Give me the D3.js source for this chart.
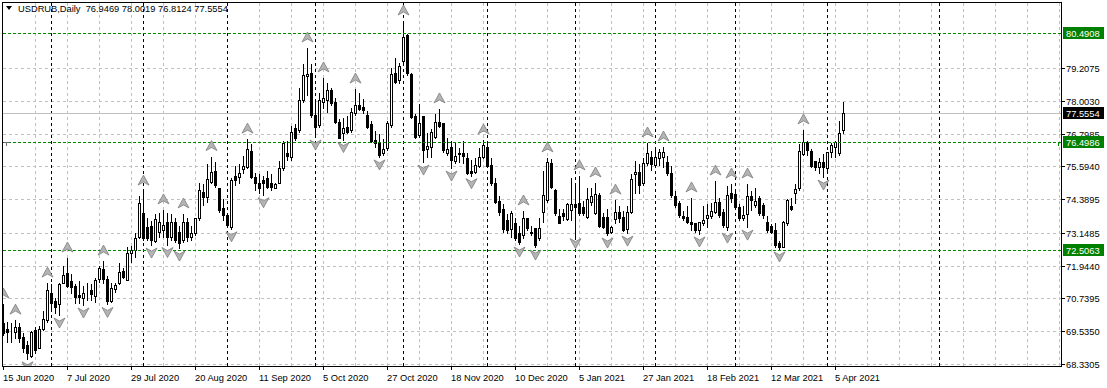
<!DOCTYPE html>
<html><head><meta charset="utf-8">
<script src="https://cdn.jsdelivr.net/npm/d3@7"></script>
<style>html,body{margin:0;padding:0;background:#fff;} svg{display:block;} line{shape-rendering:crispEdges;}</style>
</head><body>
<svg id="c" width="1107" height="388"></svg>
<script>
const symbolTitle = "USDRUB,Daily";
const lastOHLC = ["76.9469", "78.0019", "76.8124", "77.5554"];

const open = [
69.84,69.62,69.56,69.52,69.69,69.32,69.03,68.62,69.58,68.92,
69.62,69.95,70.94,70.65,70.54,71.31,71.67,71.38,71.20,70.87,
70.76,70.90,71.05,70.83,71.45,71.82,71.45,70.65,71.09,71.31,
71.75,71.42,72.41,72.52,73.00,73.88,73.36,73.40,72.85,73.18,
73.25,73.55,73.00,73.55,73.18,72.89,73.55,73.00,73.14,73.70,
74.65,74.47,75.02,75.42,74.80,74.06,73.81,73.36,75.24,75.20,
75.50,75.57,76.16,75.20,74.98,75.09,75.17,74.98,74.80,74.98,
75.53,76.08,75.94,77.00,76.93,78.03,78.91,79.02,77.48,77.11,
77.96,78.03,78.40,77.96,77.22,76.82,77.04,76.93,77.55,77.85,
77.77,77.48,77.15,76.56,76.45,76.08,76.27,77.11,79.02,78.77,
79.46,80.42,78.99,77.44,76.75,77.44,76.23,76.30,76.67,77.22,
77.19,76.08,76.30,75.79,76.05,76.08,75.90,75.42,75.39,75.61,
75.94,76.30,75.64,74.98,74.32,74.03,73.62,73.29,73.51,73.14,
73.07,73.70,73.18,73.33,72.96,73.92,74.36,75.72,74.72,73.77,
73.88,73.66,73.99,74.21,74.25,74.10,73.73,74.28,73.88,74.54,
73.73,73.73,73.18,73.66,73.92,73.73,73.29,73.92,75.31,75.39,
74.98,75.72,75.94,75.64,75.90,75.94,75.75,75.35,74.50,74.25,
73.77,73.73,73.55,73.51,73.25,73.51,73.70,73.77,73.92,74.28,
73.92,73.36,74.61,74.58,74.10,73.70,73.84,74.50,74.17,74.43,
74.17,73.55,73.40,73.25,72.78,72.63,73.51,74.14,74.61,74.80,
76.05,76.49,76.16,75.79,75.57,75.75,75.53,76.12,76.30,76.08,
76.9469];
const high = [
70.57,69.91,69.87,69.98,69.87,69.51,69.21,69.58,69.73,69.76,
70.32,71.34,71.31,70.79,71.34,71.97,72.26,71.67,71.31,71.42,
71.23,71.34,71.31,71.53,71.97,72.15,71.60,71.34,71.34,72.08,
71.90,72.67,72.70,73.18,74.54,74.72,73.73,73.62,73.88,73.92,
74.03,73.92,73.88,73.73,73.44,73.88,73.73,73.44,73.73,75.02,
74.98,75.72,75.99,75.80,74.83,74.43,73.92,75.20,75.64,75.72,
76.01,76.63,76.45,75.39,75.35,75.28,75.46,75.35,75.02,75.83,
76.56,76.56,77.11,77.19,78.51,79.39,79.98,79.39,78.03,78.33,
78.88,78.69,78.51,78.14,77.37,77.41,77.48,77.77,78.47,78.33,
78.10,77.66,77.30,76.93,76.82,76.63,77.30,79.24,79.61,79.43,
80.97,80.49,79.06,77.55,77.92,77.48,76.86,77.00,77.55,77.74,
77.22,76.67,76.56,76.49,76.30,76.56,76.12,75.86,75.94,76.30,
76.60,76.49,75.94,75.20,74.54,74.25,73.88,73.99,73.73,73.44,
73.99,73.73,73.44,73.36,73.73,75.46,75.94,75.90,74.80,74.06,
74.06,74.28,75.20,75.02,75.28,74.36,74.83,74.83,75.02,74.65,
73.92,74.06,73.44,74.39,74.17,73.99,74.17,75.35,75.83,75.72,
75.94,76.49,76.19,76.25,76.27,76.34,76.01,75.64,74.72,74.36,
73.99,74.17,74.47,73.55,73.58,74.17,74.25,74.28,75.09,74.47,
74.06,74.91,74.98,74.72,74.25,74.17,74.98,74.72,74.83,74.54,
74.28,73.81,73.51,73.55,72.89,73.62,74.43,74.47,74.98,76.45,
76.97,76.56,76.27,75.83,75.94,76.08,76.12,76.49,76.56,77.30,
78.0019];
const low = [
69.40,69.14,69.14,69.29,69.14,68.77,68.52,68.60,68.73,68.92,
69.58,69.87,70.39,70.20,70.13,71.31,71.16,70.94,70.57,70.57,
70.50,70.68,70.68,70.61,71.34,71.31,70.52,70.61,70.98,71.27,
71.49,71.42,72.08,72.26,72.96,72.89,72.89,72.70,72.81,73.00,
73.00,72.72,72.89,72.81,72.59,72.81,72.85,72.89,73.07,73.62,
74.17,74.28,74.98,74.83,73.92,73.62,73.38,73.30,74.91,74.98,
75.35,75.53,75.17,74.72,74.61,74.55,74.80,74.72,74.80,74.98,
75.46,75.83,75.83,76.56,76.86,77.96,78.22,77.41,76.67,77.04,
77.74,77.59,77.85,77.19,76.62,76.58,76.82,76.86,77.48,77.66,
77.55,77.00,76.49,76.31,75.94,76.01,76.19,77.04,78.66,78.66,
79.39,78.95,77.37,76.63,76.67,75.75,75.94,75.94,76.63,77.04,
76.12,76.01,75.53,75.72,75.75,75.72,75.31,75.25,75.35,75.57,
75.90,75.57,74.91,74.25,73.81,73.18,73.14,73.00,72.89,72.74,
72.96,73.25,73.07,72.63,72.89,73.55,74.28,74.80,73.81,73.51,
73.62,73.62,73.62,73.05,73.81,73.81,73.70,74.17,73.84,73.36,
73.33,73.07,73.14,73.51,73.55,73.22,73.14,73.88,74.61,74.61,
74.91,75.64,75.46,75.57,75.64,75.57,75.28,74.47,74.10,73.73,
73.62,73.51,73.25,73.18,73.11,73.44,73.36,73.70,73.88,73.73,
73.36,73.25,74.28,74.06,73.62,73.62,73.36,73.99,74.10,73.81,
73.70,73.18,73.14,72.63,72.56,72.63,73.44,73.99,74.25,74.72,
76.01,76.01,75.57,75.46,75.35,75.20,75.46,75.94,75.94,76.01,
76.8124];
const close = [
69.47,69.51,69.55,69.68,69.29,68.92,68.73,69.52,68.85,69.62,
69.98,71.05,70.57,70.43,71.27,71.60,71.20,71.16,70.79,70.79,
70.94,70.91,70.90,71.42,71.86,71.45,70.65,71.12,71.23,71.71,
71.53,72.41,72.52,72.96,74.25,72.96,72.96,72.89,73.66,73.55,
73.44,73.00,73.55,72.89,72.78,73.55,73.00,73.14,73.70,74.72,
74.47,75.13,75.39,74.91,73.99,73.81,73.44,75.09,75.09,75.35,
75.61,76.23,75.20,74.98,74.80,74.98,74.83,74.83,74.94,75.53,
76.45,75.97,76.86,76.63,78.03,78.95,78.99,77.48,77.04,78.03,
78.10,78.40,77.92,77.22,76.63,77.00,76.86,77.59,77.85,77.70,
77.66,77.04,76.52,76.45,76.01,76.23,77.19,78.99,78.69,79.28,
80.35,79.02,77.41,76.67,77.19,76.19,76.34,76.86,77.22,77.08,
76.19,76.23,75.83,75.97,76.08,75.97,75.35,75.35,75.64,75.94,
76.38,75.61,74.98,74.28,73.92,73.29,73.25,73.88,72.96,72.81,
73.70,73.33,73.14,72.70,73.33,74.54,75.75,74.83,73.88,73.51,
73.77,74.21,74.21,74.10,73.88,73.88,74.39,74.50,74.58,73.40,
73.36,73.14,73.36,73.92,73.70,73.25,73.92,75.13,75.39,74.91,
75.72,76.08,75.68,75.94,76.12,76.12,75.35,74.54,74.17,73.81,
73.70,73.55,73.47,73.25,73.55,73.62,73.81,73.95,74.28,73.81,
73.44,74.54,74.43,74.10,73.70,73.81,74.50,74.36,74.32,73.88,
73.81,73.25,73.18,72.70,72.63,73.55,74.36,74.03,74.76,76.16,
76.49,76.19,75.61,75.57,75.75,75.57,76.12,76.38,76.49,76.82,
77.5554];

const upFractals = [0,3,11,16,25,35,40,45,52,61,76,80,88,100,109,120,130,136,144,148,153,161,165,172,178,182,186,200];
const downFractals = [6,14,20,26,37,41,44,57,65,78,85,94,105,112,117,129,133,143,151,156,174,181,186,194,205];

const dateTickBars = [0,16,32,48,64,80,96,112,128,144,160,176,192,208];
const dateTickLabels = ["15 Jun 2020","7 Jul 2020","29 Jul 2020","20 Aug 2020","11 Sep 2020","5 Oct 2020","27 Oct 2020","18 Nov 2020","10 Dec 2020","5 Jan 2021","27 Jan 2021","18 Feb 2021","12 Mar 2021","5 Apr 2021"];
const monthStartBars = [12,35,56,78,100,121,143,163,183,206,234];

const priceTicks = [79.2075,78.0030,76.7985,75.5940,74.3895,73.1485,71.9440,70.7395,69.5350,68.3305];
const priceTickLabels = ["79.2075","78.0030","76.7985","75.5940","74.3895","73.1485","71.9440","70.7395","69.5350","68.3305"];
const levelLines = [80.4908, 76.4986, 72.5063];
const levelLabels = ["80.4908","76.4986","72.5063"];
const bidPrice = 77.5554;
const bidLabel = "77.5554";

// ---------- layout ----------
const L = 3, R = 1061, T = 3, B = 366;
const FONT = "'Liberation Sans', Arial, sans-serif";
const FS = "9.3px";
const GREEN = "#008a00";

const svg = d3.select("#c");
const x = d3.scaleLinear().domain([0, 264]).range([3, 1059]);
const y = d3.scaleLinear().domain([68.3305, 79.2075]).range([364, 68]);
const px = v => Math.round(x(v)) + 0.5;
const py = v => Math.round(y(v)) + 0.5;

svg.append("defs").append("clipPath").attr("id","plot")
  .append("rect").attr("x",L).attr("y",T).attr("width",R-L).attr("height",B-T);

const g = svg.append("g").attr("clip-path","url(#plot)");

// horizontal grid
g.append("g").selectAll("line").data(priceTicks).join("line")
  .attr("x1",L).attr("x2",R).attr("y1",d=>py(d)).attr("y2",d=>py(d))
  .attr("stroke","#c0c0c0").attr("stroke-dasharray","3,3");
// vertical grid (every 8 bars)
const vgrid = d3.range(8, 265, 8);
g.append("g").selectAll("line").data(vgrid).join("line")
  .attr("x1",d=>px(d)).attr("x2",d=>px(d)).attr("y1",T).attr("y2",B)
  .attr("stroke","#c0c0c0").attr("stroke-dasharray","3,3");
// month separators
g.append("g").selectAll("line").data(monthStartBars).join("line")
  .attr("x1",d=>px(d)).attr("x2",d=>px(d)).attr("y1",T).attr("y2",B)
  .attr("stroke","#000").attr("stroke-dasharray","3,3");
// bid line
g.append("line").attr("x1",L).attr("x2",R).attr("y1",py(bidPrice)).attr("y2",py(bidPrice))
  .attr("stroke","#c0c0c0");

// candles
const bars = d3.range(open.length).map(i => ({i, o:open[i], h:high[i], l:low[i], c:close[i]}));
const cg = g.append("g");
cg.selectAll("line").data(bars).join("line")
  .attr("x1",d=>px(d.i)).attr("x2",d=>px(d.i))
  .attr("y1",d=>py(Math.max(d.h,d.o,d.c))).attr("y2",d=>py(Math.min(d.l,d.o,d.c)))
  .attr("stroke","#000");
cg.selectAll("rect").data(bars).join("rect")
  .attr("x",d=>px(d.i)-1).attr("width",2)
  .attr("y",d=>py(Math.max(d.o,d.c)))
  .attr("height",d=>Math.max(0, py(Math.min(d.o,d.c)) - py(Math.max(d.o,d.c))))
  .attr("fill",d=>d.c>=d.o ? "#fff" : "#000")
  .attr("stroke","#000").attr("shape-rendering","crispEdges");

// level lines (drawn over the candles, like MT4 objects)
g.append("g").selectAll("line").data(levelLines).join("line")
  .attr("x1",L).attr("x2",R).attr("y1",d=>py(d)).attr("y2",d=>py(d))
  .attr("stroke",GREEN).attr("stroke-dasharray","3,2");
{
  const yy = py(levelLines[1]);
  g.append("line").attr("x1",1058.5).attr("x2",1058.5).attr("y1",yy).attr("y2",yy+3)
    .attr("stroke",GREEN);
  g.append("line").attr("x1",4).attr("x2",9).attr("y1",yy).attr("y2",yy).attr("stroke","#707070");
  g.append("line").attr("x1",6.5).attr("x2",6.5).attr("y1",yy).attr("y2",yy+3).attr("stroke","#707070");
}

// fractal arrows
const upPath = "M0,-5 L5.5,5 L0,2 L-5.5,5 Z";
const dnPath = "M0,5 L5.5,-5 L0,-2 L-5.5,-5 Z";
g.append("g").selectAll("path").data(upFractals).join("path")
  .attr("d",upPath)
  .attr("transform",d=>`translate(${Math.round(x(d))+0.5},${y(high[d])-10})`)
  .attr("fill","#b4b4b4").attr("stroke","#7c7c7c").attr("stroke-width",0.8);
g.append("g").selectAll("path").data(downFractals).join("path")
  .attr("d",dnPath)
  .attr("transform",d=>`translate(${Math.round(x(d))+0.5},${y(low[d])+8})`)
  .attr("fill","#b4b4b4").attr("stroke","#7c7c7c").attr("stroke-width",0.8);

// frame
svg.append("rect").attr("x",L-0.5).attr("y",T-0.5).attr("width",R-L+1).attr("height",B-T+1)
  .attr("fill","none").attr("stroke","#000").attr("shape-rendering","crispEdges");

// right axis
const ra = svg.append("g");
ra.selectAll("line").data(priceTicks).join("line")
  .attr("x1",R+0.5).attr("x2",R+4).attr("y1",d=>py(d)).attr("y2",d=>py(d)).attr("stroke","#000");
ra.selectAll("text").data(priceTicks).join("text")
  .attr("x",1066).attr("y",d=>Math.round(y(d))+3.5)
  .attr("font-family",FONT).attr("font-size",FS).attr("fill","#000")
  .text((d,i)=>priceTickLabels[i]);

// level labels
const ll = svg.append("g");
levelLines.forEach((v,i)=>{
  const yy = Math.round(y(v));
  ll.append("rect").attr("x",1063).attr("y",yy-6).attr("width",41).attr("height",12).attr("fill","#008000");
  ll.append("text").attr("x",1066).attr("y",yy+3.5).attr("font-family",FONT).attr("font-size",FS)
    .attr("fill","#fff").text(levelLabels[i]);
});
{
  const yy = Math.round(y(bidPrice));
  ll.append("rect").attr("x",1063).attr("y",yy-6).attr("width",41).attr("height",12).attr("fill","#000");
  ll.append("text").attr("x",1066).attr("y",yy+3.5).attr("font-family",FONT).attr("font-size",FS)
    .attr("fill","#fff").text(bidLabel);
}

// bottom axis
const ba = svg.append("g");
ba.selectAll("line").data(dateTickBars).join("line")
  .attr("x1",d=>px(d)).attr("x2",d=>px(d)).attr("y1",B+0.5).attr("y2",B+4).attr("stroke","#000");
ba.selectAll("text").data(dateTickBars).join("text")
  .attr("x",d=>Math.round(x(d))).attr("y",381)
  .attr("font-family",FONT).attr("font-size",FS).attr("fill","#000")
  .text((d,i)=>dateTickLabels[i]);

// header
svg.append("path").attr("d","M6,6 L12,6 L9,10 Z").attr("fill","#000");
svg.append("text").attr("x",18).attr("y",12).attr("font-family",FONT).attr("font-size",FS)
  .attr("fill","#000").attr("xml:space","preserve")
  .text(symbolTitle + "  " + lastOHLC.join(" "));
</script>
</body></html>
